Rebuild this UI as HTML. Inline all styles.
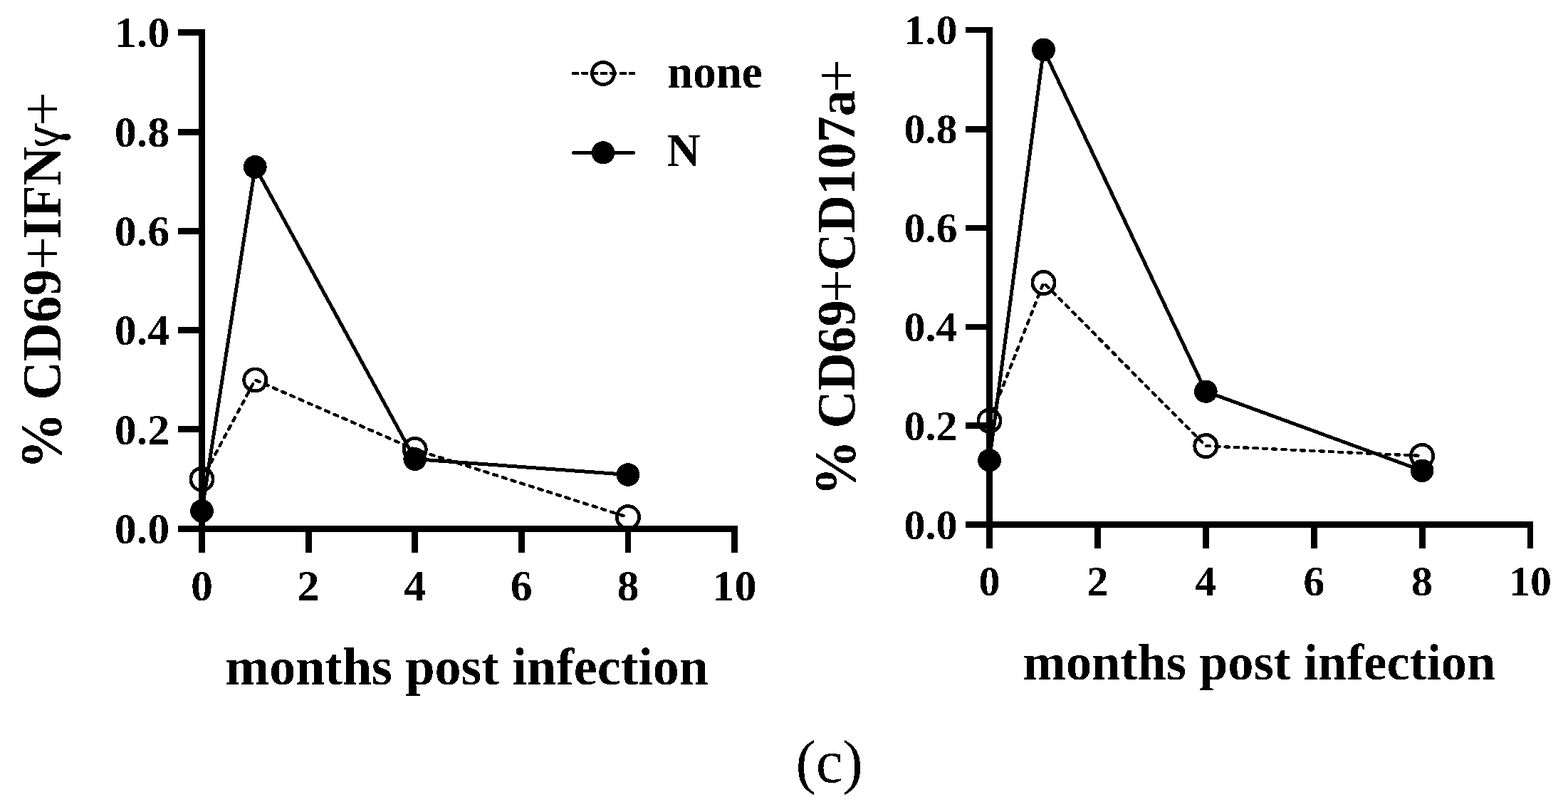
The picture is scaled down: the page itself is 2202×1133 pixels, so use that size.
<!DOCTYPE html>
<html><head><meta charset="utf-8"><title>Figure (c)</title>
<style>
html,body{margin:0;padding:0;background:#fff;overflow:hidden;}
svg{display:block;}
text{font-family:"Liberation Serif","Times New Roman",serif;fill:#000;}
.b{font-weight:bold;}
.pl{font-weight:normal;}
.gm{font-family:"DejaVu Serif",serif;font-weight:normal;font-style:italic;}
.dash{fill:none;stroke:#000;stroke-width:4.4;stroke-dasharray:5.3 8;stroke-linecap:round;}
.ld{stroke-width:3.9;stroke-dasharray:10 3.37;stroke-linecap:butt;}
.solid{fill:none;stroke:#000;stroke-width:5;stroke-linejoin:round;}
.open{fill:none;stroke:#000;stroke-width:4.8;}
</style></head>
<body>
<svg width="2202" height="1133" viewBox="0 0 2202 1133">
<defs><filter id="bin" filterUnits="userSpaceOnUse" x="0" y="0" width="2202" height="1133"><feComponentTransfer><feFuncA type="discrete" tableValues="0 1"/></feComponentTransfer></filter></defs>
<rect width="2202" height="1133" fill="#fff"/>
<g filter="url(#bin)">
<rect x="279" y="41" width="9" height="735"/>
<rect x="250" y="738" width="786" height="9"/>
<rect x="250" y="41" width="38" height="9"/>
<rect x="250" y="181" width="38" height="9"/>
<rect x="250" y="320" width="38" height="9"/>
<rect x="250" y="459" width="38" height="9"/>
<rect x="250" y="598" width="38" height="9"/>
<rect x="429" y="738" width="9" height="38"/>
<rect x="578" y="738" width="9" height="38"/>
<rect x="728" y="738" width="9" height="38"/>
<rect x="878" y="738" width="8" height="38"/>
<rect x="1027" y="738" width="9" height="38"/>
<text x="238.3" y="763.2" text-anchor="end" font-size="62" class="b">0.0</text>
<text x="238.3" y="623.8" text-anchor="end" font-size="62" class="b">0.2</text>
<text x="238.3" y="484.4" text-anchor="end" font-size="62" class="b">0.4</text>
<text x="238.3" y="345.0" text-anchor="end" font-size="62" class="b">0.6</text>
<text x="238.3" y="205.6" text-anchor="end" font-size="62" class="b">0.8</text>
<text x="238.3" y="66.2" text-anchor="end" font-size="62" class="b">1.0</text>
<text x="283.5" y="842.8" text-anchor="middle" font-size="62" class="b">0</text>
<text x="433.1" y="842.8" text-anchor="middle" font-size="62" class="b">2</text>
<text x="582.7" y="842.8" text-anchor="middle" font-size="62" class="b">4</text>
<text x="732.3" y="842.8" text-anchor="middle" font-size="62" class="b">6</text>
<text x="881.9" y="842.8" text-anchor="middle" font-size="62" class="b">8</text>
<text x="1031.5" y="842.8" text-anchor="middle" font-size="62" class="b">10</text>
<polyline class="dash" points="283.5,672.8 358.3,533.4 582.7,631.0 881.9,726.2"/>
<circle class="open" cx="283.5" cy="672.8" r="15.6"/>
<circle class="open" cx="358.3" cy="533.4" r="15.6"/>
<circle class="open" cx="582.7" cy="631.0" r="15.6"/>
<circle class="open" cx="881.9" cy="726.2" r="15.6"/>
<polyline class="solid" points="283.5,717.4 358.3,234.4 582.7,644.6 881.9,666.5"/>
<circle cx="283.5" cy="717.4" r="16.3"/>
<circle cx="358.3" cy="234.4" r="16.3"/>
<circle cx="582.7" cy="644.6" r="16.3"/>
<circle cx="881.9" cy="666.5" r="16.3"/>
<rect x="1385" y="38" width="9" height="732"/>
<rect x="1356" y="732" width="797" height="9"/>
<rect x="1356" y="38" width="38" height="8"/>
<rect x="1356" y="177" width="38" height="9"/>
<rect x="1356" y="316" width="38" height="8"/>
<rect x="1356" y="455" width="38" height="8"/>
<rect x="1356" y="593" width="38" height="9"/>
<rect x="1537" y="732" width="9" height="38"/>
<rect x="1689" y="732" width="9" height="38"/>
<rect x="1841" y="732" width="9" height="38"/>
<rect x="1993" y="732" width="9" height="38"/>
<rect x="2145" y="732" width="8" height="38"/>
<text x="1344.5" y="756.6" text-anchor="end" font-size="60" class="b">0.0</text>
<text x="1344.5" y="617.7" text-anchor="end" font-size="60" class="b">0.2</text>
<text x="1344.5" y="478.8" text-anchor="end" font-size="60" class="b">0.4</text>
<text x="1344.5" y="339.9" text-anchor="end" font-size="60" class="b">0.6</text>
<text x="1344.5" y="201.0" text-anchor="end" font-size="60" class="b">0.8</text>
<text x="1344.5" y="62.1" text-anchor="end" font-size="60" class="b">1.0</text>
<text x="1389.5" y="835.9" text-anchor="middle" font-size="60" class="b">0</text>
<text x="1541.4" y="835.9" text-anchor="middle" font-size="60" class="b">2</text>
<text x="1693.3" y="835.9" text-anchor="middle" font-size="60" class="b">4</text>
<text x="1845.2" y="835.9" text-anchor="middle" font-size="60" class="b">6</text>
<text x="1997.1" y="835.9" text-anchor="middle" font-size="60" class="b">8</text>
<text x="2149.0" y="835.9" text-anchor="middle" font-size="60" class="b">10</text>
<polyline class="dash" points="1389.5,590.7 1465.5,396.9 1693.3,626.1 1997.1,640.0"/>
<circle class="open" cx="1389.5" cy="590.7" r="15.6"/>
<circle class="open" cx="1465.5" cy="396.9" r="15.6"/>
<circle class="open" cx="1693.3" cy="626.1" r="15.6"/>
<circle class="open" cx="1997.1" cy="640.0" r="15.6"/>
<polyline class="solid" points="1389.5,646.2 1465.5,69.8 1693.3,549.7 1997.1,660.8"/>
<circle cx="1389.5" cy="646.2" r="16.3"/>
<circle cx="1465.5" cy="69.8" r="16.3"/>
<circle cx="1693.3" cy="549.7" r="16.3"/>
<circle cx="1997.1" cy="660.8" r="16.3"/>
<text x="316.5" y="960.6" font-size="74" class="b">months post infection</text>
<text x="1436.6" y="953.7" font-size="72.4" class="b">months post infection</text>
<text transform="translate(85.3,655.6) rotate(-90) scale(0.964,1)" font-size="78" class="b"><tspan font-size="83" dx="-3.53">%</tspan><tspan font-size="78" dx="-1.45"> CD69</tspan><tspan class="pl" font-size="88" dx="-2.02" dy="3.25">+</tspan><tspan dx="-3.47" dy="-3.25">IFN</tspan></text>
<text transform="translate(85.3,175.5) rotate(-90) scale(-0.89,1) skewX(16)" font-size="70" class="gm">γ</text>
<text transform="translate(88.55,177) rotate(-90) scale(0.964,1)" font-size="88" class="pl">+</text>
<text transform="translate(1199.5,693.7) rotate(-90) scale(0.957,1)" font-size="77" class="b"><tspan font-size="82" dx="-2.56">%</tspan><tspan font-size="77" dx="-2.4"> CD69</tspan><tspan class="pl" font-size="88.6" dx="-4.39" dy="4.2">+</tspan><tspan dx="-2.51" dy="-4.2">CD107a</tspan><tspan class="pl" font-size="88.6" dx="-3.92" dy="4.2">+</tspan></text>
<line x1="803" y1="102.9" x2="891.8" y2="102.9" class="dash ld"/>
<circle class="open" cx="847" cy="102.9" r="15.6"/>
<line x1="805.4" y1="214.4" x2="889.5" y2="214.4" class="solid" stroke-linecap="round"/>
<circle cx="847" cy="214.4" r="16.2"/>
<text x="937" y="122.9" font-size="65" class="b">none</text>
<text x="936.6" y="233.3" font-size="65" class="b">N</text>
<text x="1117.5" y="1098" font-size="85">(c)</text>
</g>
</svg>
</body></html>
